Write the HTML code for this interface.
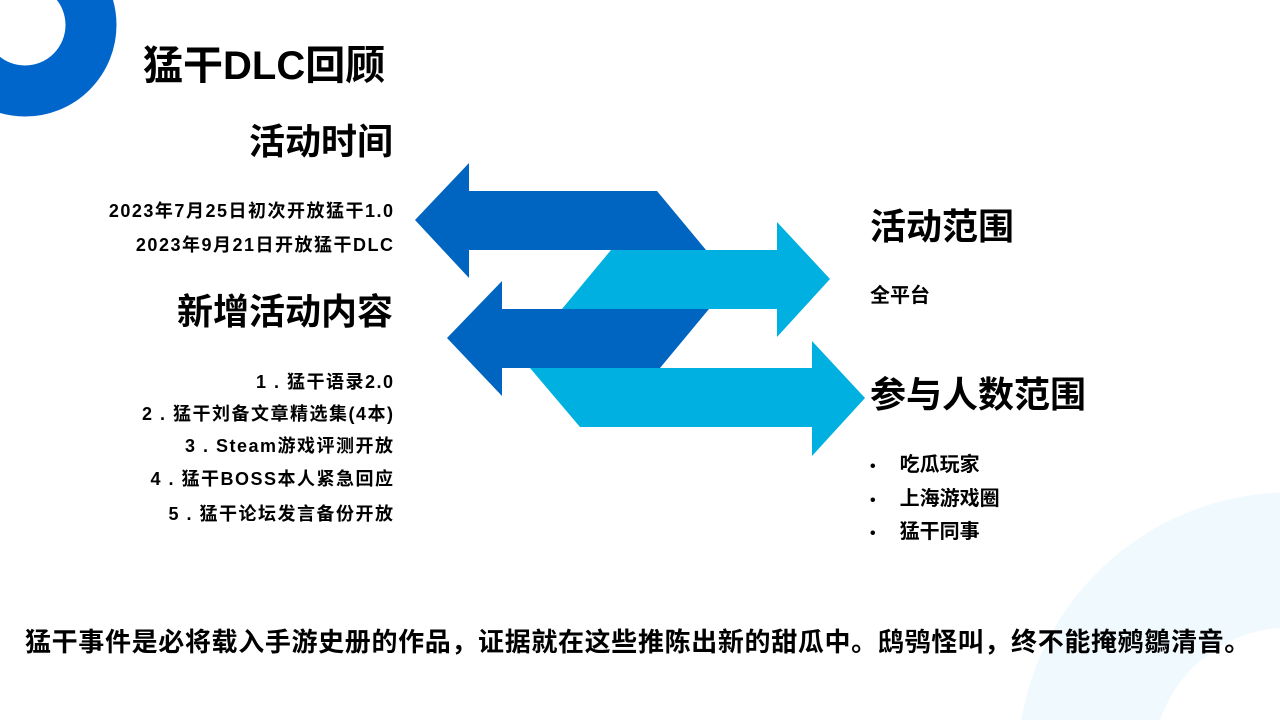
<!DOCTYPE html>
<html><head><meta charset="utf-8"><style>
html,body{margin:0;padding:0;background:#fff;width:1280px;height:720px;overflow:hidden;}
#c{position:relative;width:1280px;height:720px;overflow:hidden;font-family:"Liberation Sans","Noto Sans CJK SC",sans-serif;font-weight:bold;color:#000;}
.t{position:absolute;white-space:nowrap;line-height:1;}
.r{text-align:right;}
.s{font-size:18px;letter-spacing:1.5px;margin-right:-1.5px;}
</style></head><body><div id="c">
<svg width="1280" height="720" style="position:absolute;left:0;top:0;display:block">
<circle cx="25" cy="25" r="66" fill="none" stroke="#0066cc" stroke-width="51"/>
<circle cx="1290" cy="765" r="205" fill="none" stroke="#f0f9fe" stroke-width="135"/>
<polygon points="415,220 469,163 469,191 657,191 706,250 469,250 469,278" fill="#0064c1"/>
<polygon points="562,309 611,250 777,250 777,222 830,279 777,337 777,309" fill="#00b0e0"/>
<polygon points="447,338 502,281 502,309 709,309 660,368 502,368 502,396" fill="#0064c1"/>
<polygon points="530,368 812,368 812,341 865,398 812,456 812,427 580,427" fill="#00b0e0"/>
</svg>
<div class="t" style="left:143px;top:46px;font-size:40px;">猛干DLC回顾</div>
<div class="t r" style="right:887px;top:124px;font-size:36px;">活动时间</div>
<div class="t r s" style="right:887px;top:202px;">2023年7月25日初次开放猛干1.0</div>
<div class="t r s" style="right:887px;top:236px;">2023年9月21日开放猛干DLC</div>
<div class="t r" style="right:887px;top:294px;font-size:36px;">新增活动内容</div>
<div class="t r s" style="right:887px;top:373px;">1 . 猛干语录2.0</div>
<div class="t r s" style="right:887px;top:405px;">2 . 猛干刘备文章精选集(4本)</div>
<div class="t r s" style="right:887px;top:437px;">3 . Steam游戏评测开放</div>
<div class="t r s" style="right:887px;top:470px;">4 . 猛干BOSS本人紧急回应</div>
<div class="t r s" style="right:887px;top:505px;">5 . 猛干论坛发言备份开放</div>
<div class="t" style="left:870px;top:209px;font-size:36px;">活动范围</div>
<div class="t" style="left:870px;top:286px;font-size:20px;">全平台</div>
<div class="t" style="left:870px;top:377px;font-size:36px;">参与人数范围</div>
<div class="t" style="left:870px;top:455px;font-size:20px;"><span style="font-size:16px">•</span><span style="margin-left:24px">吃瓜玩家</span></div>
<div class="t" style="left:870px;top:489px;font-size:20px;"><span style="font-size:16px">•</span><span style="margin-left:24px">上海游戏圈</span></div>
<div class="t" style="left:870px;top:522px;font-size:20px;"><span style="font-size:16px">•</span><span style="margin-left:24px">猛干同事</span></div>
<div class="t" style="left:25px;top:629px;font-size:26px;letter-spacing:0.65px;">猛干事件是必将载入手游史册的作品，证据就在这些推陈出新的甜瓜中。鸱鸮怪叫，终不能掩鹓鶵清音。</div>
</div></body></html>
